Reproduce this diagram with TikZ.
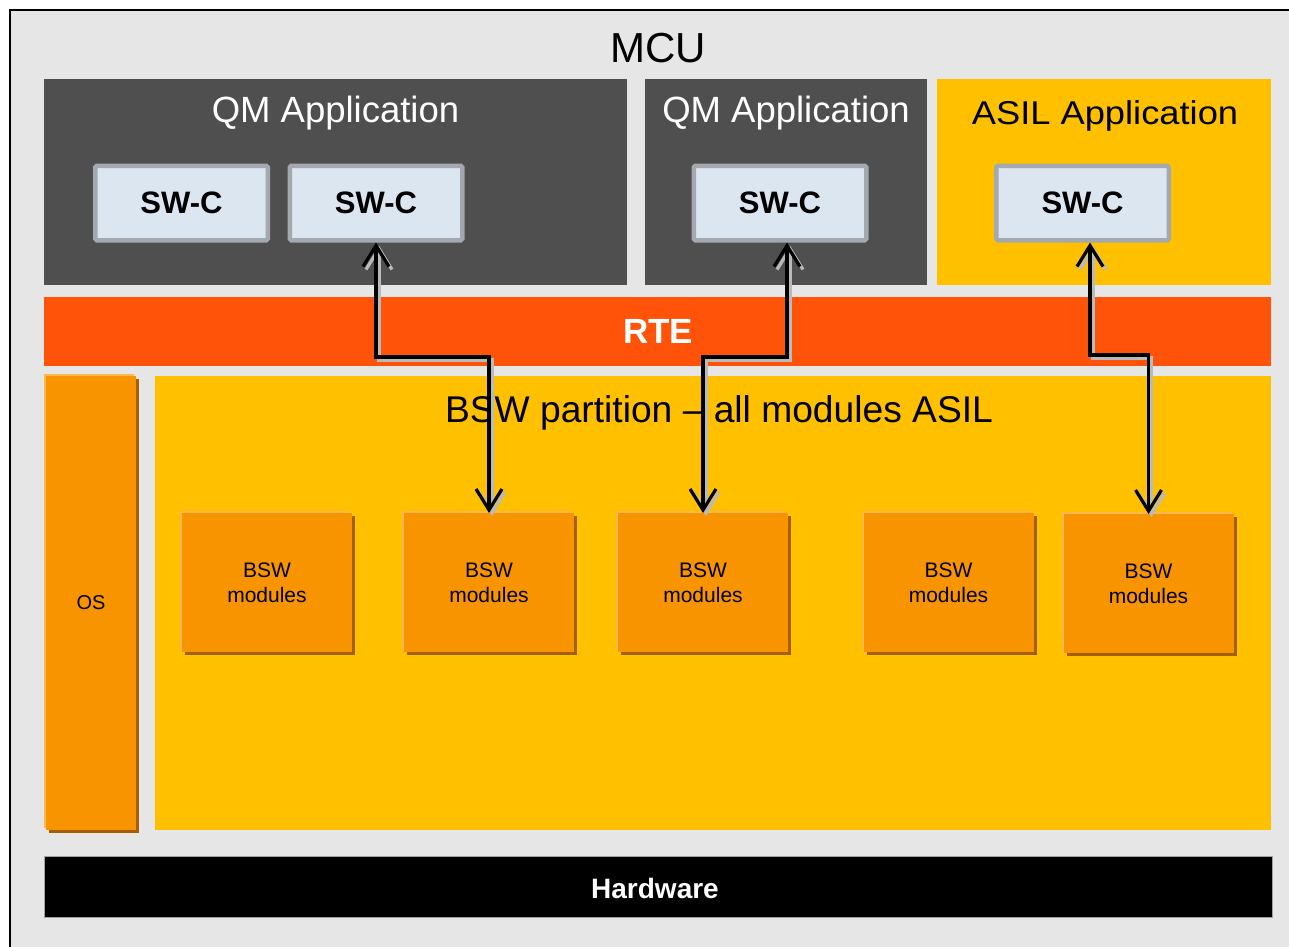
\documentclass[tikz,border=0pt]{standalone}
\usepackage{fontspec}
\setmainfont{Liberation Sans}
\usetikzlibrary{arrows.meta,shadows}
\definecolor{bgc}{HTML}{E6E6E6}
\definecolor{darkc}{HTML}{4F4F4F}
\definecolor{asilc}{HTML}{FFC000}
\definecolor{rtec}{HTML}{FF5309}
\definecolor{orangec}{HTML}{F79400}
\definecolor{shadowc}{HTML}{A35F00}
\definecolor{hilitec}{HTML}{FFB84D}
\definecolor{swfill}{HTML}{DCE6F1}
\definecolor{swborder}{HTML}{A3A9AF}
\definecolor{hwborder}{HTML}{A0A0A0}
\definecolor{arrshadow}{HTML}{BABABA}
\tikzset{
  block/.style={inner sep=0pt, outer sep=0pt, anchor=north west, draw=none},
  title/.style={anchor=base, inner sep=0pt},
  swc/.style={draw=swborder, line width=4.5pt, fill=swfill, minimum width=172.5pt,
    minimum height=74.5pt, inner sep=0pt, rounded corners=1.5pt,
    font=\fontsize{31}{36}\selectfont\bfseries},
  raised/.style={fill=orangec, inner sep=0pt, outer sep=0pt,
    general shadow={fill=hilitec, shadow xshift=-2pt, shadow yshift=2pt},
    general shadow={fill=shadowc, shadow xshift=3pt, shadow yshift=-3pt}},
  bswmod/.style={raised, minimum width=170pt, minimum height=139pt, align=center,
    font=\fontsize{21}{25}\selectfont},
  link/.style={line width=3.2pt, line join=miter,
    {Straight Barb[length=21pt,width=26pt]}-{Straight Barb[length=21pt,width=26pt]}},
  linkshadow/.style={link, draw=arrshadow, transform canvas={xshift=3pt,yshift=-3pt}}
}
\begin{document}
\begin{tikzpicture}[x=1pt,y=-1pt]
\useasboundingbox (0,0) rectangle (1289,946);
\clip (0,0) rectangle (1289,946);
\fill[white] (0,0) rectangle (1289,946);
% outer MCU frame
\node[block, fill=bgc, draw=black, line width=2pt, minimum width=1300pt, minimum height=960pt] (mcu) at (9.5,9.5) {};
\node[title, font=\fontsize{42}{48}\selectfont] (mcut) at (658,62) {MCU};
% application containers
\node[block, fill=darkc, minimum width=583pt, minimum height=205.5pt] (qm1) at (44,79) {};
\node[block, fill=darkc, minimum width=282pt, minimum height=205.5pt] (qm2) at (645,79) {};
\node[block, fill=asilc, minimum width=334pt, minimum height=205.5pt] (asil) at (937,79) {};
\node[title, text=white, font=\fontsize{36.5}{42}\selectfont] (qm1t) at (335.5,122.5) {QM Application};
\node[title, text=white, font=\fontsize{36.5}{42}\selectfont] (qm2t) at (786,122.5) {QM Application};
\node[title, font=\fontsize{33}{40}\selectfont] (asilt) at (1105,124) {\scalebox{1.1}[1]{ASIL Application}};
% SW-C
\node[swc] (sw1) at (181.5,203) {SW-C};
\node[swc] (sw2) at (376,203) {SW-C};
\node[swc] (sw3) at (780,203) {SW-C};
\node[swc] (sw4) at (1082.5,203) {SW-C};
% RTE
\node[block, fill=rtec, minimum width=1227pt, minimum height=68.5pt] (rte) at (44,297) {};
\node[text=white, inner sep=0pt, font=\fontsize{35}{40}\selectfont\bfseries] (rtet) at (658,331) {RTE};
% OS
\node[raised, minimum width=90pt, minimum height=454pt] (os) at (91,603) {};
\node[inner sep=0pt, font=\fontsize{20}{24}\selectfont] (ost) at (91,603) {OS};
% BSW partition
\node[block, fill=asilc, minimum width=1116pt, minimum height=453.5pt] (bswp) at (155,376) {};
\node[title, font=\fontsize{37.2}{42}\selectfont] (bswpt) at (719,422) {BSW partition -- all modules ASIL};
% BSW modules
\node[bswmod] (b1) at (267,582.5) {BSW\\modules};
\node[bswmod] (b2) at (489,582.5) {BSW\\modules};
\node[bswmod] (b3) at (703,582.5) {BSW\\modules};
\node[bswmod] (b4) at (948.5,582.5) {BSW\\modules};
\node[bswmod] (b5) at (1148.5,583.5) {BSW\\modules};
% Hardware
\node[block, fill=black, draw=hwborder, line width=1pt, minimum width=1228pt, minimum height=61pt] (hw) at (44,856) {};
\node[text=white, inner sep=0pt, font=\fontsize{28}{32}\selectfont\bfseries] (hwt) at (655,888) {Hardware};
% connectors
\coordinate (r1) at (0,357);
\coordinate (r2) at (0,357);
\coordinate (r3) at (0,355);
\draw[linkshadow] (sw2.south) -- (sw2.south |- r1) -| (b2.north);
\draw[linkshadow] ([xshift=7pt]sw3.south) -- ([xshift=7pt]sw3.south |- r2) -| (b3.north);
\draw[linkshadow] ([xshift=7.5pt]sw4.south) -- ([xshift=7.5pt]sw4.south |- r3) -| (b5.north);
\draw[link] (sw2.south) -- (sw2.south |- r1) -| (b2.north);
\draw[link] ([xshift=7pt]sw3.south) -- ([xshift=7pt]sw3.south |- r2) -| (b3.north);
\draw[link] ([xshift=7.5pt]sw4.south) -- ([xshift=7.5pt]sw4.south |- r3) -| (b5.north);
\end{tikzpicture}
\end{document}
